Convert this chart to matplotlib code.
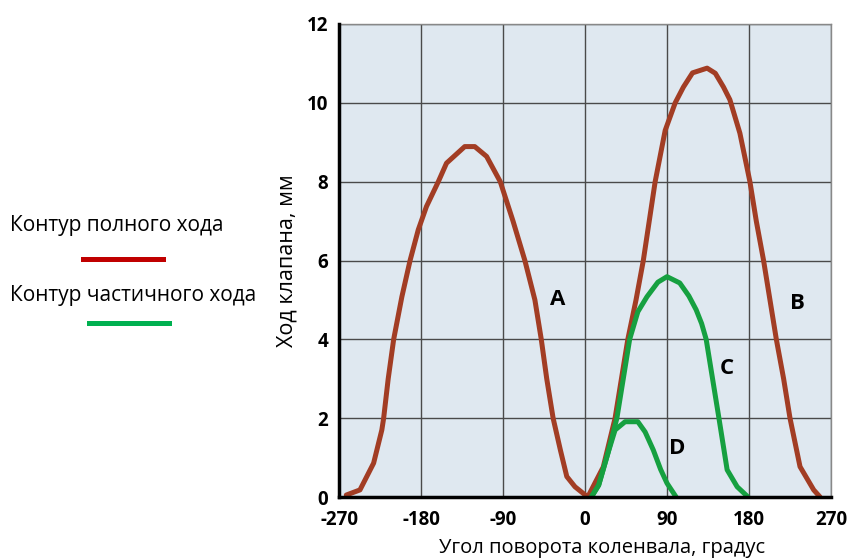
"""Valve lift contours: full-stroke (A, B) and partial-stroke (C, D) cams."""

import matplotlib.pyplot as plt
from matplotlib.lines import Line2D

plt.rcParams["font.family"] = ["Open Sans", "DejaVu Sans"]
plt.rcParams["axes.unicode_minus"] = False

BROWN = "#A23D24"
GREEN = "#16A040"
LEG_RED = "#C00000"
LEG_GREEN = "#00B050"

# curve A (intake, full stroke)
a_deg = [-262, -247, -232, -223, -221, -216, -210, -201, -192, -183, -174, -161, -152,
         -132, -121, -108, -93, -79, -66, -55, -48, -42, -35, -27, -20, -11, 3]
a_mm = [0.05, 0.18, 0.86, 1.7, 2.0, 3.0, 4.0, 5.08, 6.0, 6.78, 7.37, 8.0, 8.47,
        8.89, 8.89, 8.64, 8.0, 7.0, 6.0, 5.0, 4.0, 3.0, 2.0, 1.19, 0.52, 0.26, 0.0]

# curve B (exhaust, full stroke)
b_deg = [3, 20, 33, 47, 56, 64, 77, 88, 99, 108, 118, 134, 143, 152,
         159, 170, 181, 188, 196, 203, 210, 218, 225, 236, 251, 258]
b_mm = [0.0, 0.76, 2.0, 4.0, 5.0, 6.0, 8.0, 9.3, 10.0, 10.4, 10.76, 10.88, 10.75, 10.4,
        10.08, 9.23, 8.0, 7.0, 6.0, 5.0, 4.0, 3.0, 2.0, 0.77, 0.18, 0.0]

# curve C (partial stroke)
c_deg = [7, 15, 25, 35, 42, 49, 58, 68, 80, 90, 104, 114, 122, 128, 133,
         140, 147, 156, 167, 179]
c_mm = [0.0, 0.3, 1.1, 2.0, 3.0, 4.0, 4.7, 5.08, 5.45, 5.59, 5.43, 5.1, 4.75, 4.4, 4.0,
        3.0, 2.0, 0.69, 0.26, 0.0]

# curve D (partial stroke, small)
d_deg = [7, 15, 25, 33, 44, 58, 66, 75, 83, 90, 100]
d_mm = [0.0, 0.3, 1.1, 1.7, 1.91, 1.91, 1.65, 1.19, 0.7, 0.35, 0.0]

curve_labels = ["A", "B", "C", "D"]
label_deg = [-30, 233, 156, 101]
label_mm = [5.0, 4.92, 3.27, 1.24]

x_ticks = [-270, -180, -90, 0, 90, 180, 270]
y_ticks = [0, 2, 4, 6, 8, 10, 12]

fig = plt.figure(figsize=(8.49, 5.58), dpi=100)
ax = fig.add_axes([0.3993, 0.1093, 0.5795, 0.8477])
ax.set_facecolor("#DFE8F0")

line_kw = dict(lw=3.6, solid_capstyle="round", solid_joinstyle="round")
ax.plot(a_deg, a_mm, color=BROWN, zorder=3, **line_kw)
ax.plot(b_deg, b_mm, color=BROWN, zorder=3, **line_kw)
ax.plot(c_deg, c_mm, color=GREEN, zorder=4, **line_kw)
ax.plot(d_deg, d_mm, color=GREEN, zorder=4, **line_kw)

for lab, x, y in zip(curve_labels, label_deg, label_mm):
    ax.text(x, y, lab, fontsize=16, fontweight="bold", ha="center", va="center", zorder=5)

ax.set_xlim(-270, 270)
ax.set_ylim(0, 12)
ax.set_xticks(x_ticks)
ax.set_yticks(y_ticks)
ax.grid(True, color="#4A4A4A", lw=1.0, zorder=1)
ax.set_axisbelow(True)
ax.tick_params(length=0, labelsize=13.5)
ax.tick_params(axis="x", pad=9)
ax.tick_params(axis="y", pad=8)
for t in ax.get_xticklabels() + ax.get_yticklabels():
    t.set_fontweight("bold")

for side in ("left", "bottom"):
    ax.spines[side].set_linewidth(2.5)
    ax.spines[side].set_color("black")
    ax.spines[side].set_zorder(6)
for side in ("top", "right"):
    ax.spines[side].set_linewidth(1.0)
    ax.spines[side].set_color("#888888")

ax.set_xlabel("Угол поворота коленвала, градус", fontsize=14.5, va="center")
ax.set_ylabel("Ход клапана, мм", fontsize=15.5, va="center")
ax.xaxis.set_label_coords(0.5346, -0.1078)
ax.yaxis.set_label_coords(-0.1047, 0.499)

# legend drawn as free text + lines, as in the reference
fig.text(10 / 849, 1 - 226 / 558, "Контур полного хода", fontsize=15, va="center", ha="left")
fig.text(10 / 849, 1 - 295 / 558, "Контур частичного хода", fontsize=15, va="center", ha="left")
fig.add_artist(Line2D([83 / 849, 163 / 849], [1 - 259 / 558] * 2, color=LEG_RED, lw=3.6))
fig.add_artist(Line2D([89 / 849, 169 / 849], [1 - 323 / 558] * 2, color=LEG_GREEN, lw=3.6))

fig.savefig("out.png", dpi=100)
